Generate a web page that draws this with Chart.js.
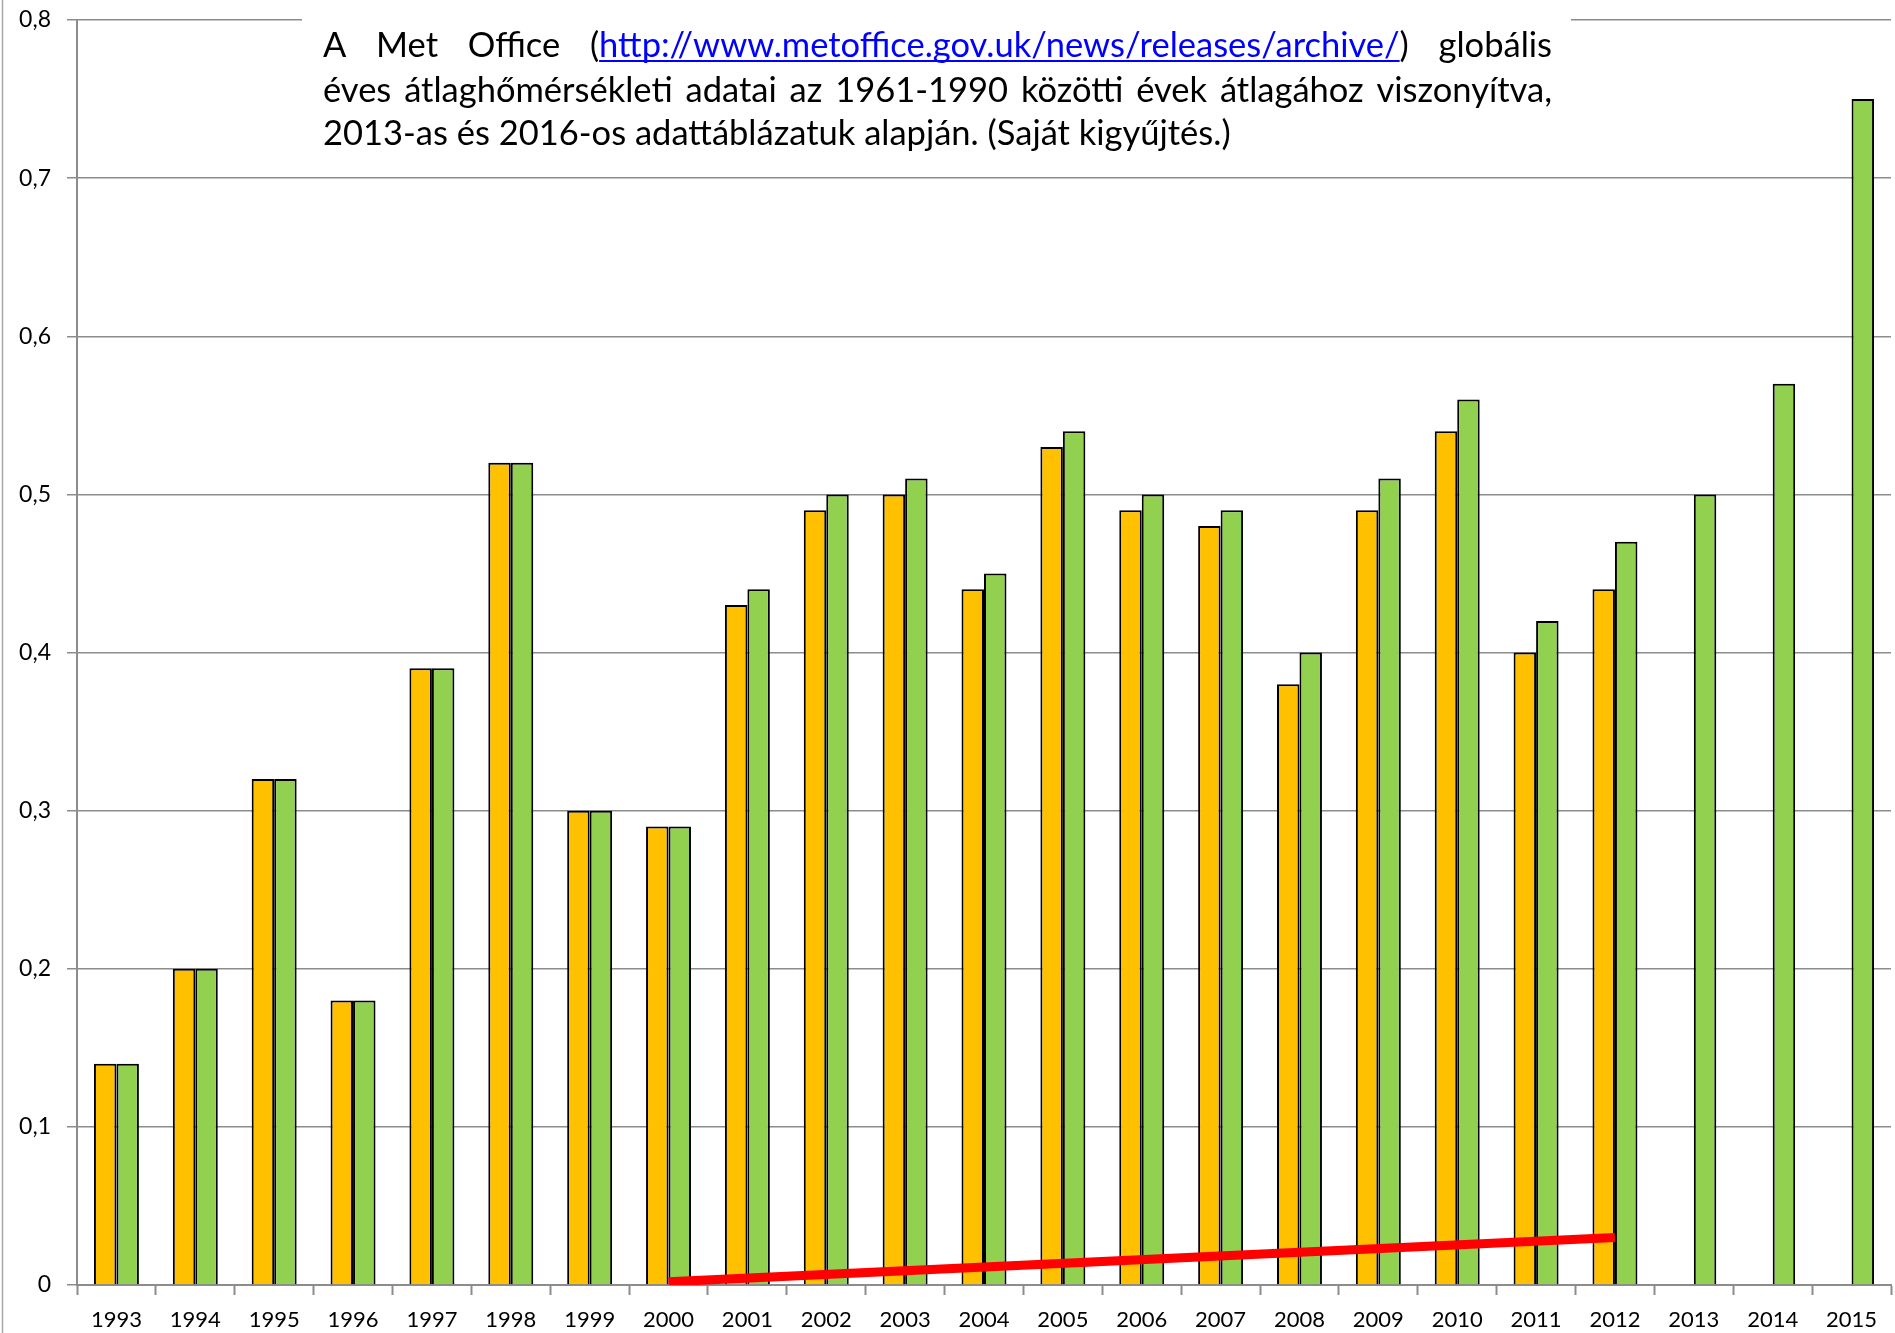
<!DOCTYPE html>
<html>
<head>
<meta charset="utf-8">
<script src="https://cdn.jsdelivr.net/npm/chart.js@4.4.0/dist/chart.umd.min.js"></script>
<style>
  html, body { margin: 0; padding: 0; background: #fff; }
  #wrap { width: 1895px; height: 1333px; }
</style>
</head>
<body>
<div id="wrap"><canvas id="c" width="1895" height="1333"></canvas></div>
<script>
// evek (kategoriak)
var evek = ['1993','1994','1995','1996','1997','1998','1999','2000','2001','2002','2003','2004',
            '2005','2006','2007','2008','2009','2010','2011','2012','2013','2014','2015'];

// 2013-as adattablazat (sarga)
var adat2013 = [0.14, 0.20, 0.32, 0.18, 0.39, 0.52, 0.30, 0.29, 0.43, 0.49, 0.50, 0.44,
                0.53, 0.49, 0.48, 0.38, 0.49, 0.54, 0.40, 0.44, null, null, null];

// 2016-os adattablazat (zold)
var adat2016 = [0.14, 0.20, 0.32, 0.18, 0.39, 0.52, 0.30, 0.29, 0.44, 0.50, 0.51, 0.45,
                0.54, 0.50, 0.49, 0.40, 0.51, 0.56, 0.42, 0.47, 0.50, 0.57, 0.75];

// piros trendvonal: csak a ket vegpont (2000 es 2012)
var trend = [null, null, null, null, null, null, null, 0.002, null, null, null, null,
             null, null, null, null, null, null, null, 0.030, null, null, null];

var yTicks = [0, 0.1, 0.2, 0.3, 0.4, 0.5, 0.6, 0.7, 0.8];

var szoveg1 = ['A', 'Met', 'Office', '(LINK)', 'globális'];
var link = 'http://www.metoffice.gov.uk/news/releases/archive/';
var szoveg2 = 'éves átlaghőmérsékleti adatai az 1961-1990 közötti évek átlagához viszonyítva,';
var szoveg3 = '2013-as és 2016-os adattáblázatuk alapján. (Saját kigyűjtés.)';

var betu = 'Lato, "Open Sans", sans-serif';
var szurke = '#8c8c8c';

// szovegdoboz + bal keret
var szovegPlugin = {
    id: 'szoveg',
    afterDraw: function(chart) {
        var ctx = chart.ctx;
        ctx.save();
        // bal keret
        ctx.strokeStyle = '#a6a6a6';
        ctx.lineWidth = 1.5;
        ctx.beginPath();
        ctx.moveTo(2.5, 0);
        ctx.lineTo(2.5, 1333);
        ctx.stroke();

        // feher doboz
        ctx.fillStyle = '#fff';
        ctx.fillRect(302, 4, 1269, 160);

        var bal = 323, jobb = 1552;
        // betumeret a 3. sor szelessegebol
        ctx.font = '100px ' + betu;
        var size = 100 * 908 / ctx.measureText(szoveg3).width;
        ctx.font = size + 'px ' + betu;
        ctx.textBaseline = 'alphabetic';
        ctx.textAlign = 'left';

        function szo(w) { return w === '(LINK)' ? '(' + link + ')' : w; }

        // 1. sor (sorkizart)
        var y1 = 57, y2 = 102, y3 = 145;
        var osszes = 0;
        szoveg1.forEach(function(w) { osszes += ctx.measureText(szo(w)).width; });
        var koz = (jobb - bal - osszes) / (szoveg1.length - 1);
        var x = bal;
        szoveg1.forEach(function(w) {
            if (w === '(LINK)') {
                ctx.fillStyle = '#000';
                ctx.fillText('(', x, y1);
                var px = x + ctx.measureText('(').width;
                ctx.fillStyle = '#0000ff';
                ctx.fillText(link, px, y1);
                var lw = ctx.measureText(link).width;
                ctx.fillRect(px, y1 + 3, lw, 2);
                ctx.fillStyle = '#000';
                ctx.fillText(')', px + lw, y1);
            } else {
                ctx.fillStyle = '#000';
                ctx.fillText(w, x, y1);
            }
            x += ctx.measureText(szo(w)).width + koz;
        });

        // 2. sor (sorkizart)
        var szavak = szoveg2.split(' ');
        osszes = 0;
        szavak.forEach(function(w) { osszes += ctx.measureText(w).width; });
        koz = (jobb - bal - osszes) / (szavak.length - 1);
        x = bal;
        ctx.fillStyle = '#000';
        szavak.forEach(function(w) {
            ctx.fillText(w, x, y2);
            x += ctx.measureText(w).width + koz;
        });

        // 3. sor
        ctx.fillText(szoveg3, bal, y3);
        ctx.restore();
    }
};

var ctx = document.getElementById('c');

var myChart = new Chart(ctx, {
    type: 'bar',
    data: {
        labels: evek,
        datasets: [{
            type: 'line',
            label: 'Trend',
            data: trend,
            spanGaps: true,
            borderColor: '#ff0000',
            borderWidth: 9,
            borderCapStyle: 'butt',
            pointRadius: 0,
            fill: false,
            order: 0
        }, {
            label: '2013',
            data: adat2013,
            backgroundColor: '#ffc000',
            borderColor: '#000',
            borderWidth: 2,
            order: 1
        }, {
            label: '2016',
            data: adat2016,
            backgroundColor: '#92d050',
            borderColor: '#000',
            borderWidth: 2,
            order: 1
        }]
    },
    options: {
        responsive: false,
        animation: false,
        devicePixelRatio: 1,
        categoryPercentage: 0.57,
        barPercentage: 1.0,
        layout: { padding: { top: 20, right: 4, bottom: 0, left: 0 } },
        plugins: {
            legend: { display: false },
            tooltip: { enabled: false },
            title: { display: false }
        },
        scales: {
            x: {
                offset: true,
                grid: {
                    offset: true,
                    drawOnChartArea: false,
                    drawTicks: true,
                    tickLength: 10,
                    tickWidth: 2,
                    tickColor: szurke
                },
                border: { color: szurke, width: 2 },
                ticks: {
                    color: '#000',
                    padding: 12,
                    maxRotation: 0,
                    autoSkip: false,
                    font: { family: betu, size: 22 }
                },
                afterFit: function(s) {
                    s.height = 48;
                    s.paddingLeft = 0;
                    s.paddingRight = 0;
                }
            },
            y: {
                min: 0,
                max: 0.8,
                afterBuildTicks: function(s) {
                    s.ticks = yTicks.map(function(v) { return { value: v }; });
                },
                grid: {
                    color: szurke,
                    lineWidth: 1.5,
                    tickLength: 10,
                    drawTicks: true
                },
                border: { color: szurke, width: 2 },
                ticks: {
                    color: '#000',
                    padding: 16,
                    font: { family: betu, size: 23 },
                    callback: function(v) {
                        return v === 0 ? '0' : v.toFixed(1).replace('.', ',');
                    }
                },
                afterFit: function(s) {
                    s.width = 77;
                    s.paddingTop = 0;
                    s.paddingBottom = 0;
                }
            }
        }
    },
    plugins: [szovegPlugin]
});
</script>
</body>
</html>
